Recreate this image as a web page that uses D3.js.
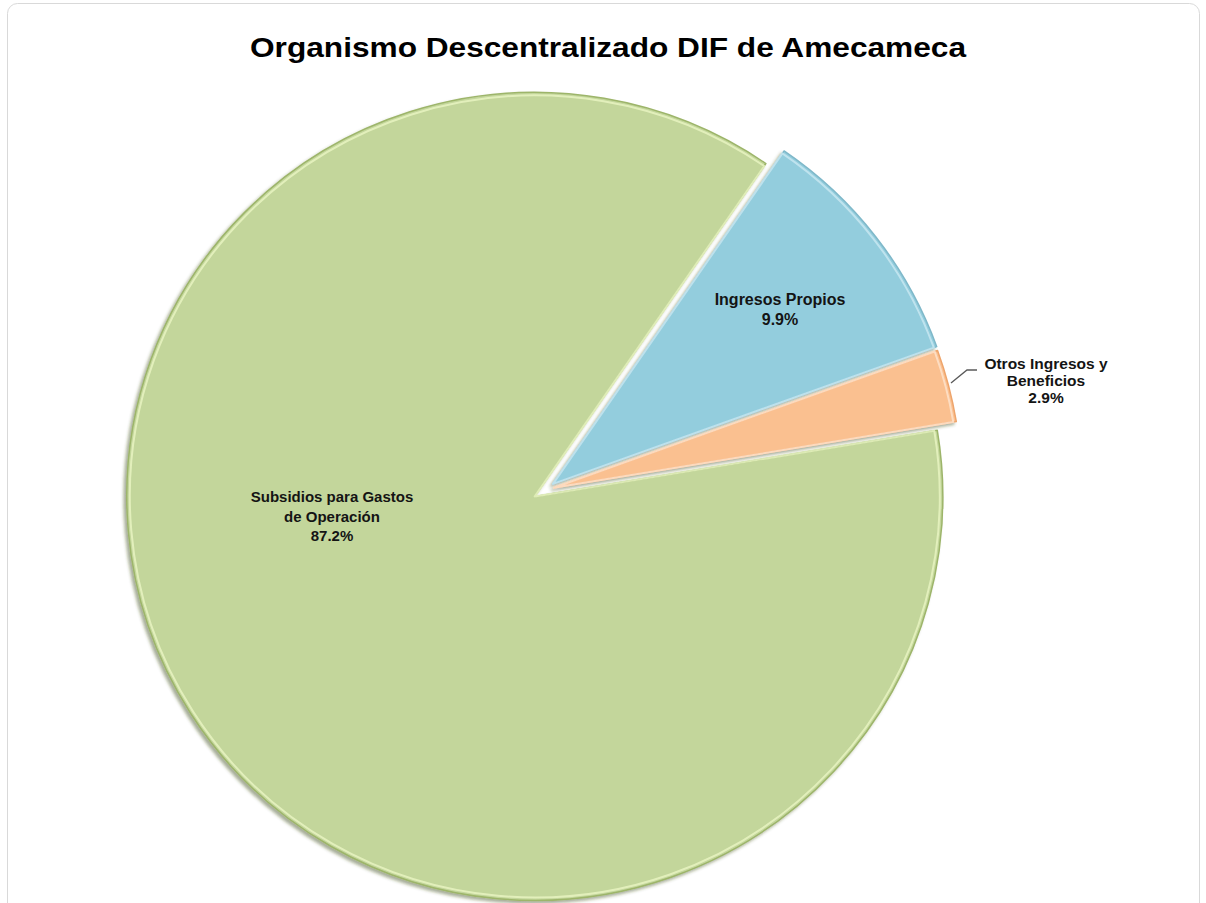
<!DOCTYPE html>
<html>
<head>
<meta charset="utf-8">
<script src="https://cdn.jsdelivr.net/npm/d3@7"></script>
<style>
  html, body { margin: 0; padding: 0; background: #ffffff; }
  svg { display: block; }
  text { font-family: Arial, "Liberation Sans", Helvetica, sans-serif; }
</style>
</head>
<body>
<svg id="chart" width="1206" height="903"></svg>
<script>
// Income composition of the DIF organism (percent shares)
const categories = ["Ingresos Propios", "Otros Ingresos y Beneficios", "Subsidios para Gastos de Operación"];
const shares = [9.9, 2.9, 87.2];
// Label wrapping for each category
const labelLines = [["Ingresos Propios"], ["Otros Ingresos y", "Beneficios"], ["Subsidios para Gastos", "de Operación"]];
const chartTitle = "Organismo Descentralizado DIF de Amecameca";

const W = 1206, H = 903;
const svg = d3.select("#chart");

// Slice styling
const fills   = ["#93cddd", "#fac090", "#c3d69b"];
const edges   = ["#7fb8c9", "#eea56c", "#9db56a"];
const lights  = ["#c4e6ef", "#fde0c8", "#e6f2bf"];
const explode = [10, 9, 12];

const cx = 545, cy = 490, ry = 404, rx = 408;
const startDeg = 34.5;

const defs = svg.append("defs");
const shadow = defs.append("filter").attr("id", "shadow")
  .attr("x", "-10%").attr("y", "-10%").attr("width", "120%").attr("height", "120%");
shadow.append("feDropShadow").attr("dx", -2.5).attr("dy", 2.5)
  .attr("stdDeviation", 1.8).attr("flood-color", "#3c4a1c").attr("flood-opacity", 0.45);

// Chart area frame
svg.append("rect")
  .attr("x", 7.5).attr("y", 3.5).attr("width", 1192).attr("height", 910)
  .attr("rx", 10).attr("fill", "#ffffff")
  .attr("stroke", "#d9d9d9").attr("stroke-width", 1);

// Title
svg.append("text")
  .attr("x", 608).attr("y", 57)
  .attr("text-anchor", "middle")
  .attr("font-size", 27).attr("font-weight", "bold").attr("fill", "#000")
  .attr("textLength", 716).attr("lengthAdjust", "spacingAndGlyphs")
  .text(chartTitle);

const pie = d3.pie().sort(null).value(d => d)
  .startAngle(startDeg * Math.PI / 180)
  .endAngle(startDeg * Math.PI / 180 + 2 * Math.PI);
const arcs = pie(shares);

const arc = d3.arc().innerRadius(0).outerRadius(ry);
const innerArc = d3.arc().innerRadius(0).outerRadius(ry - 3);

const g = svg.append("g")
  .attr("transform", `translate(${cx},${cy}) scale(${rx / ry},1)`);

function offset(d, i) {
  const a = (d.startAngle + d.endAngle) / 2;
  return [Math.sin(a) * explode[i], -Math.cos(a) * explode[i]];
}

// Draw the large slice first, then the exploded small ones on top
const order = [2, 0, 1];
order.forEach(i => {
  const d = arcs[i];
  const [ox, oy] = offset(d, i);
  const sg = g.append("g").attr("transform", `translate(${ox},${oy})`);
  sg.append("path")
    .attr("d", arc(d))
    .attr("fill", fills[i])
    .attr("stroke", edges[i]).attr("stroke-width", 1.5)
    .attr("stroke-linejoin", "round")
    .attr("filter", "url(#shadow)");
  // bevel highlight just inside the edge
  sg.append("path")
    .attr("d", innerArc(d))
    .attr("fill", "none")
    .attr("stroke", lights[i]).attr("stroke-width", 2)
    .attr("stroke-linejoin", "round")
    .attr("opacity", 0.9);
});

// Data labels
const fmt = v => d3.format(".1f")(v) + "%";
const labelPos = [
  { x: 780, y: 305, size: 16, lh: 20 },
  { x: 1046, y: 369, size: 15.5, lh: 17 },
  { x: 332, y: 502, size: 15, lh: 19.5 }
];
shares.forEach((v, i) => {
  const lines = labelLines[i].concat([fmt(v)]);
  const p = labelPos[i];
  const t = svg.append("text")
    .attr("text-anchor", "middle")
    .attr("font-size", p.size).attr("font-weight", "bold").attr("fill", "#141414");
  lines.forEach((s, k) => {
    t.append("tspan").attr("x", p.x).attr("y", p.y + k * p.lh).text(s);
  });
});

// Leader line for the small slice
const lp = d3.path();
lp.moveTo(951, 383); lp.lineTo(967, 370); lp.lineTo(977, 370);
svg.append("path").attr("d", lp.toString())
  .attr("fill", "none").attr("stroke", "#595959").attr("stroke-width", 1.3);
</script>
</body>
</html>
